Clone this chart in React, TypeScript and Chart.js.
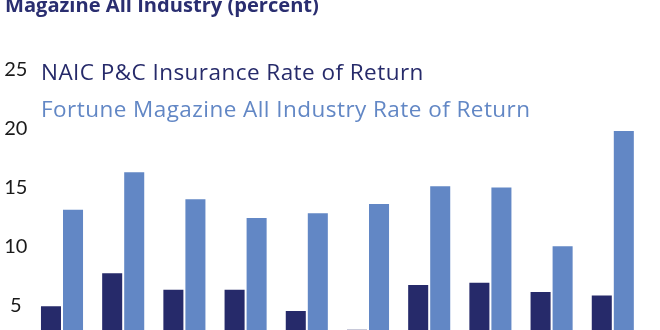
import React, { useEffect, useRef } from "react";
import { Chart, registerables } from "chart.js";

Chart.register(...registerables);

// Rate of return by year (percent)
const categories = ["2012", "2013", "2014", "2015", "2016", "2017", "2018", "2019", "2020", "2021"];
const naicReturn = [5.0, 7.8, 6.4, 6.4, 4.6, 3.0, 6.8, 7.0, 6.2, 5.9];
const fortuneReturn = [13.2, 16.4, 14.1, 12.5, 12.9, 13.7, 15.2, 15.1, 10.1, 19.9];
const yTickValues = [0, 5, 10, 15, 20, 25];

const seriesNames = [
  "NAIC P&C Insurance Rate of Return",
  "Fortune Magazine All Industry Rate of Return",
];
const titleText = "Magazine All Industry (percent)";

const NAVY = "#262A6A";
const BLUE = "#6287C5";
const TICK_FONT = "Lato, sans-serif";
const TEXT_FONT = "'Open Sans', sans-serif";

// Title and text-only legend drawn over the plot
const overlayText = {
  id: "overlayText",
  afterDraw(chart: any) {
    const { ctx } = chart;
    ctx.save();
    ctx.textAlign = "left";
    ctx.textBaseline = "alphabetic";
    ctx.letterSpacing = "0px";
    ctx.font = `bold 20.1px ${TEXT_FONT}`;
    ctx.fillStyle = "#2A2E70";
    ctx.fillText(titleText, 5, 12);
    ctx.font = `22.5px ${TEXT_FONT}`;
    ctx.letterSpacing = "0.45px";
    chart.data.datasets.forEach((ds: any, i: number) => {
      ctx.fillStyle = ds.backgroundColor;
      ctx.fillText(ds.label, 41, 80 + i * 37);
    });
    ctx.restore();
  },
};

export default function App() {
  const canvasRef = useRef<HTMLCanvasElement | null>(null);

  useEffect(() => {
    if (!canvasRef.current) return;
    const chart = new Chart(canvasRef.current, {
      type: "bar",
      data: {
        labels: categories,
        datasets: [
          {
            label: seriesNames[0],
            data: naicReturn,
            backgroundColor: NAVY,
            borderColor: "rgba(255,255,255,0.35)",
            borderWidth: 1,
          },
          {
            label: seriesNames[1],
            data: fortuneReturn,
            backgroundColor: BLUE,
            borderColor: "rgba(255,255,255,0.45)",
            borderWidth: 1,
          },
        ],
      },
      options: {
        animation: false,
        responsive: true,
        maintainAspectRatio: false,
        layout: { padding: { top: 70, right: 16.6, left: 0, bottom: 0 } },
        datasets: { bar: { categoryPercentage: 0.72, barPercentage: 1 } },
        plugins: {
          legend: { display: false },
          title: { display: false },
          tooltip: { enabled: false },
        },
        scales: {
          x: { display: false },
          y: {
            min: 0,
            max: 25,
            afterFit: (scale: any) => {
              scale.width = 31.4;
            },
            afterBuildTicks: (scale: any) => {
              scale.ticks = yTickValues.map((v) => ({ value: v }));
            },
            grid: { display: false, drawTicks: false },
            border: { display: false },
            ticks: {
              crossAlign: "center",
              padding: 4,
              color: "#1A1A1A",
              font: { family: TICK_FONT, size: 20 },
            },
          },
        },
      },
      plugins: [overlayText],
    });
    return () => chart.destroy();
  }, []);

  return (
    <div
      style={{
        position: "fixed",
        left: 0,
        top: 0,
        width: 660,
        height: 330,
        overflow: "hidden",
        background: "#fff",
      }}
    >
      <div style={{ position: "relative", width: 660, height: 380 }}>
        <canvas ref={canvasRef} />
      </div>
    </div>
  );
}
